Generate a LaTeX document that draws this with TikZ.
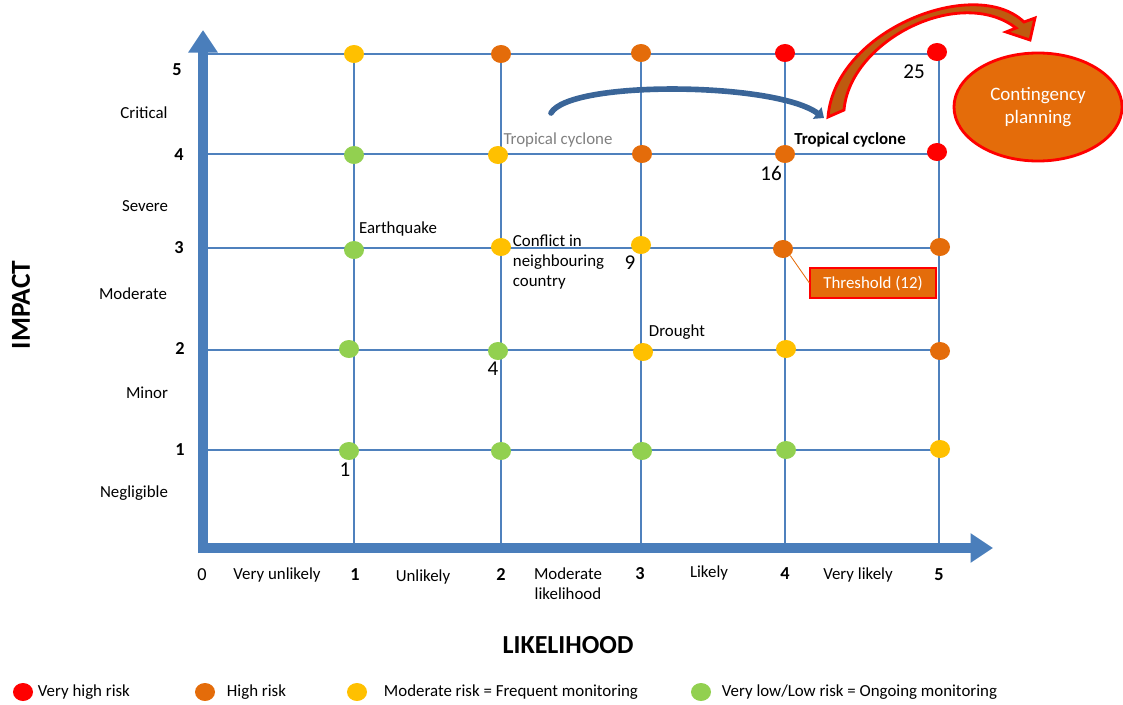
\documentclass[tikz,border=0pt]{standalone}
\usepackage{fontspec}
\setmainfont{Carlito}
\usetikzlibrary{arrows.meta,shapes.geometric}

\definecolor{axisblue}{RGB}{74,126,187}
\definecolor{gridblue}{RGB}{79,129,189}
\definecolor{riskred}{RGB}{255,0,0}
\definecolor{riskorange}{RGB}{228,108,10}
\definecolor{riskyellow}{RGB}{255,192,0}
\definecolor{riskgreen}{RGB}{146,208,80}
\definecolor{arcblue}{RGB}{58,101,152}
\definecolor{arcbrown}{RGB}{190,90,15}

\begin{document}
\begin{tikzpicture}[x=0.025cm, y=-0.025cm,
  axis/.style={draw=axisblue, line width=7pt, -{Triangle[length=16pt,width=20pt]}},
  gridline/.style={draw=gridblue, line width=0.9pt},
  riskdot/.style={ellipse, inner sep=0pt, minimum width=0.5cm, minimum height=0.45cm},
  lbl/.style={font=\fontsize{12}{14.2}\selectfont},
  ticknum/.style={font=\fontsize{13}{15}\selectfont\bfseries},
  score/.style={font=\fontsize{15}{17}\selectfont},
  axistitle/.style={font=\fontsize{18.5}{20}\selectfont\bfseries}]
\useasboundingbox (0,0) rectangle (1123,704);

\foreach \y in {54,154,248,350,450}
  \draw[gridline] (205,\y) -- (939,\y);
\foreach \x in {354,501,641,785,939}
  \draw[gridline] (\x,54) -- (\x,545);

\draw[axis] (203,553) -- (203,30);
\draw[axis] (198,548) -- (993,548);

% impact 5
\node[riskdot, fill=riskyellow] (d51) at (354,54) {};
\node[riskdot, fill=riskorange] (d52) at (501,54) {};
\node[riskdot, fill=riskorange] (d53) at (641,53) {};
\node[riskdot, fill=riskred] (d54) at (785,53) {};
\node[riskdot, fill=riskred] (d55) at (937,52) {};
% impact 4
\node[riskdot, fill=riskgreen] (d41) at (354,155) {};
\node[riskdot, fill=riskyellow] (d42) at (498,155) {};
\node[riskdot, fill=riskorange] (d43) at (642,154) {};
\node[riskdot, fill=riskorange] (d44) at (785,154) {};
\node[riskdot, fill=riskred] (d45) at (937,152) {};
% impact 3
\node[riskdot, fill=riskgreen] (d31) at (354,250) {};
\node[riskdot, fill=riskyellow] (d32) at (501,247) {};
\node[riskdot, fill=riskyellow] (d33) at (641,245) {};
\node[riskdot, fill=riskorange] (d34) at (783,249) {};
\node[riskdot, fill=riskorange] (d35) at (940,247) {};
% impact 2
\node[riskdot, fill=riskgreen] (d21) at (349,349) {};
\node[riskdot, fill=riskgreen] (d22) at (498,351) {};
\node[riskdot, fill=riskyellow] (d23) at (643,352) {};
\node[riskdot, fill=riskyellow] (d24) at (786,349) {};
\node[riskdot, fill=riskorange] (d25) at (940,351) {};
% impact 1
\node[riskdot, fill=riskgreen] (d11) at (349,451) {};
\node[riskdot, fill=riskgreen] (d12) at (501,451) {};
\node[riskdot, fill=riskgreen] (d13) at (642,451) {};
\node[riskdot, fill=riskgreen] (d14) at (786,450) {};
\node[riskdot, fill=riskyellow] (d15) at (940,449) {};

% impact scale
\node[ticknum] (i5) at (177,70) {5};
\node[ticknum] (i4) at (179,155) {4};
\node[ticknum] (i3) at (179,248) {3};
\node[ticknum] (i2) at (180,348) {2};
\node[ticknum] (i1) at (180,450) {1};
\node[lbl] (critical) at (144,113) {Critical};
\node[lbl] (severe) at (145,206) {Severe};
\node[lbl] (moderate) at (133,294) {Moderate};
\node[lbl] (minor) at (147,393) {Minor};
\node[lbl] (negligible) at (134,493) {Negligible};
\node[axistitle, font=\fontsize{19.5}{21}\selectfont\bfseries, rotate=90] (impact) at (21,305) {IMPACT};

% likelihood scale
\node[lbl, font=\fontsize{13}{15}\selectfont] (l0) at (202,575) {0};
\node[lbl] (vunlikely) at (277,575) {Very unlikely};
\node[ticknum] (l1) at (355,575) {1};
\node[lbl] (unlikely) at (423,577) {Unlikely};
\node[ticknum] (l2) at (501,574) {2};
\node[lbl, align=center] (modlik) at (568,584) {Moderate\\likelihood};
\node[ticknum] (l3) at (640,574) {3};
\node[lbl] (likely) at (709,573) {Likely};
\node[ticknum] (l4) at (785,574) {4};
\node[lbl] (vlikely) at (858,575) {Very likely};
\node[ticknum] (l5) at (939,575) {5};
\node[axistitle] (likelihood) at (568,645) {LIKELIHOOD};

% hazards
\node[lbl] (quake) at (398,229) {Earthquake};
\node[lbl, anchor=north west, align=left] (conflict) at (508,230) {Conflict in\\neighbouring\\country};
\node[lbl] (drought) at (677,332) {Drought};
\node[lbl, text=gray] (cycold) at (558,140) {Tropical cyclone};
\node[lbl, font=\fontsize{12}{14}\selectfont\bfseries] (cycnew) at (850,140) {Tropical cyclone};

% scores
\node[score] (s1) at (345,470) {1};
\node[score] (s4) at (493,369) {4};
\node[score] (s9) at (630,263) {9};
\node[score] (s16) at (771,173) {16};
\node[score] (s25) at (914,72) {25};

% threshold
\node[draw=riskred, fill=riskorange, text=white, lbl, line width=0.8pt,
  minimum width=3.15cm, minimum height=0.75cm] (thr) at (873,283) {Threshold (12)};
\draw[riskorange, line width=0.6pt] (d34.south east) -- (thr.west);

% contingency
\node[ellipse, draw=riskred, line width=2pt, fill=riskorange, text=white, align=center,
  minimum width=4.2cm, minimum height=2.7cm, font=\fontsize{13.5}{16.4}\selectfont] (plan) at (1038,107) {Contingency\\planning};

% moving cyclone up
\coordinate (cycfrom) at (551,113);
\coordinate (cycto) at (824,118);
\draw[arcblue, line width=4pt, line cap=round, -{Triangle[length=6pt,width=10pt]}]
  (cycfrom) .. controls (570,80) and (775,82) .. (cycto);

\draw[riskred, line width=2pt, fill=arcbrown]
  (844,110) -- (828,117) .. controls (835,30) and (975,-25) .. (1024,22)
  -- (1035,18) -- (1030,40) -- (1006,32) -- (1016,28)
  .. controls (960,-15) and (850,40) .. (844,110) -- cycle;

% legend
\node[riskdot, fill=riskred] (k1) at (23,692) {};
\node[lbl, anchor=west] (k1t) at (33,692) {Very high risk};
\node[riskdot, fill=riskorange] (k2) at (205,692) {};
\node[lbl, anchor=west] (k2t) at (222,692) {High risk};
\node[riskdot, fill=riskyellow] (k3) at (357,692) {};
\node[lbl, anchor=west] (k3t) at (379,692) {Moderate risk = Frequent monitoring};
\node[riskdot, fill=riskgreen] (k4) at (701,692) {};
\node[lbl, anchor=west] (k4t) at (717,692) {Very low/Low risk = Ongoing monitoring};
\end{tikzpicture}
\end{document}
